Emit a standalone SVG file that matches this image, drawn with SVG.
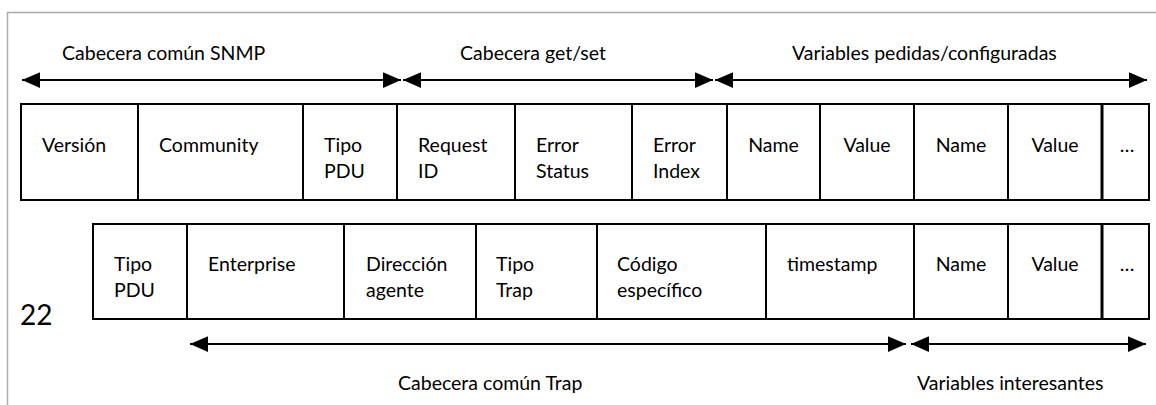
<svg xmlns="http://www.w3.org/2000/svg" width="1156" height="405" viewBox="0 0 1156 405">
<style>
.t{font-family:Lato,"Open Sans",sans-serif;font-size:19.5px;fill:#000}
.box{fill:#fff;stroke:#000;stroke-width:2}
.arr{stroke:#000;stroke-width:2;fill:none;marker-start:url(#ah);marker-end:url(#ah)}
</style>
<defs>
<marker id="ah" markerUnits="userSpaceOnUse" markerWidth="18" markerHeight="18" viewBox="0 0 16 16" refX="16" refY="8" orient="auto-start-reverse">
<path d="M0,1 L16,8 L0,15 Z" fill="#000"/>
</marker>
</defs>
<rect width="1156" height="405" fill="#fff"/>
<path d="M7.5,405 V12.5 H1156" fill="none" stroke="#aaa" stroke-width="1.5"/>
<g id="connectors">
<line class="arr" x1="22" y1="80" x2="401" y2="80"/>
<line class="arr" x1="403" y1="80" x2="713" y2="80"/>
<line class="arr" x1="715" y1="80" x2="1147" y2="80"/>
<line class="arr" x1="190" y1="344" x2="906" y2="344"/>
<line class="arr" x1="911" y1="344" x2="1146" y2="344"/>
</g>
<g id="labels">
<text class="t" x="62" y="60">Cabecera común SNMP</text>
<text class="t" x="460" y="60">Cabecera get/set</text>
<text class="t" x="792" y="60">Variables pedidas/configuradas</text>
<text class="t" x="398" y="390">Cabecera común Trap</text>
<text class="t" x="917" y="390">Variables interesantes</text>
<text class="t" x="20" y="325" style="font-size:28px">22</text>
</g>
<g id="row1">
<g id="version"><rect class="box" x="21" y="104" width="117" height="96"/><text class="t" x="42" y="152">Versión</text></g>
<g id="community"><rect class="box" x="138" y="104" width="165" height="96"/><text class="t" x="159" y="152">Community</text></g>
<g id="tipopdu1"><rect class="box" x="303" y="104" width="94" height="96"/><text class="t" x="324" y="152">Tipo</text><text class="t" x="324" y="178">PDU</text></g>
<g id="requestid"><rect class="box" x="397" y="104" width="118" height="96"/><text class="t" x="418" y="152">Request</text><text class="t" x="418" y="178">ID</text></g>
<g id="errorstatus"><rect class="box" x="515" y="104" width="117" height="96"/><text class="t" x="536" y="152">Error</text><text class="t" x="536" y="178">Status</text></g>
<g id="errorindex"><rect class="box" x="632" y="104" width="95" height="96"/><text class="t" x="653" y="152">Error</text><text class="t" x="653" y="178">Index</text></g>
<g id="name1"><rect class="box" x="727" y="104" width="93" height="96"/><text class="t" x="773.5" y="152" text-anchor="middle">Name</text></g>
<g id="value1"><rect class="box" x="820" y="104" width="94" height="96"/><text class="t" x="867" y="152" text-anchor="middle">Value</text></g>
<g id="name2"><rect class="box" x="914" y="104" width="94" height="96"/><text class="t" x="961" y="152" text-anchor="middle">Name</text></g>
<g id="value2"><rect class="box" x="1008" y="104" width="94" height="96"/><text class="t" x="1055" y="152" text-anchor="middle">Value</text></g>
<g id="more1"><rect class="box" x="1102" y="104" width="47" height="96"/><line x1="1102" y1="104" x2="1102" y2="200" stroke="#000" stroke-width="3"/><text class="t" x="1127" y="152" text-anchor="middle">…</text></g>
</g>
<g id="row2">
<g id="tipopdu2"><rect class="box" x="93" y="224" width="94" height="95"/><text class="t" x="114" y="271">Tipo</text><text class="t" x="114" y="297">PDU</text></g>
<g id="enterprise"><rect class="box" x="187" y="224" width="157" height="95"/><text class="t" x="208" y="271">Enterprise</text></g>
<g id="direccion"><rect class="box" x="344" y="224" width="132" height="95"/><text class="t" x="366" y="271">Dirección</text><text class="t" x="366" y="297">agente</text></g>
<g id="tipotrap"><rect class="box" x="476" y="224" width="121" height="95"/><text class="t" x="496" y="271">Tipo</text><text class="t" x="496" y="297">Trap</text></g>
<g id="codigo"><rect class="box" x="597" y="224" width="169" height="95"/><text class="t" x="617" y="271">Código</text><text class="t" x="617" y="297">específico</text></g>
<g id="timestamp"><rect class="box" x="766" y="224" width="148" height="95"/><text class="t" x="787" y="271">timestamp</text></g>
<g id="name3"><rect class="box" x="914" y="224" width="94" height="95"/><text class="t" x="961" y="271" text-anchor="middle">Name</text></g>
<g id="value3"><rect class="box" x="1008" y="224" width="94" height="95"/><text class="t" x="1055" y="271" text-anchor="middle">Value</text></g>
<g id="more2"><rect class="box" x="1102" y="224" width="47" height="95"/><line x1="1102" y1="224" x2="1102" y2="319" stroke="#000" stroke-width="3"/><text class="t" x="1127" y="271" text-anchor="middle">…</text></g>
</g>
</svg>
